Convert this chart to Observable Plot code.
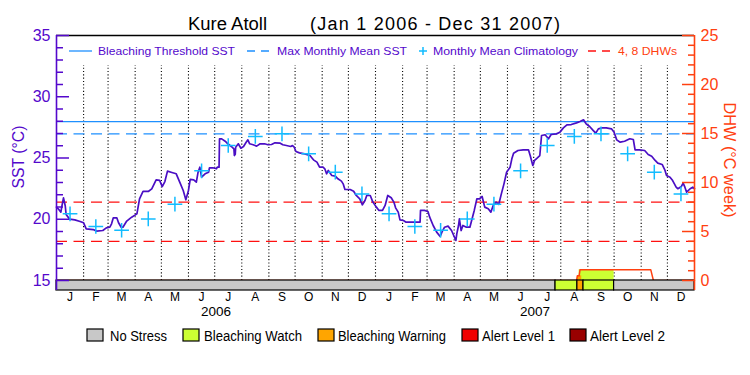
<!DOCTYPE html>
<html>
<head>
<meta charset="utf-8">
<script src="https://cdn.jsdelivr.net/npm/d3@7"></script>
<script src="https://cdn.jsdelivr.net/npm/@observablehq/plot@0.6"></script>
<style>
  body { margin: 0; background: #fff; }
  #chart svg { display: block; }
</style>
</head>
<body>
<div id="chart"></div>
<script>
// ---------------- DATA ----------------
const stationName = "Kure Atoll";
const periodLabel = "(Jan 1 2006 - Dec 31 2007)";
const monthLetters = ["J","F","M","A","M","J","J","A","S","O","N","D"];
const yearLabels = ["2006", "2007"];

// Monthly mean climatology (°C), Jan..Dec
const climatology = [20.44, 19.41, 19.10, 20.03, 21.23, 23.95, 26.02, 26.76, 26.97, 25.34, 23.84, 22.07];
const mmmSST = 26.97;          // Max Monthly Mean SST
const thresholdSST = 27.97;    // Bleaching Threshold SST (MMM + 1)
const dhwLevels = [4, 8];      // DHW reference lines

// SST: days since 2006-01-01, and value (°C)
const sstDay = [0,2,5,6,8,10,11,15,21,27,31,34,42,46,53,57,61,63,65,69,71,74,76,80,86,92,95,99,105,109,114,118,121,124,127,132,137,141,145,148,151,153,157,160,162,164,166,170,174,175,179,183,
184,186,186.5,189,193,196,200,203,203.5,204.5,205,208,211,214,217,219,221,225,229,233,238,242,246,250,256,259,263,268,270,272,274,278,284,290,294,298,301,305,307,309,311,315,319,322,326,328,330,336,340,343,347,350,353,355,359,362,366,
369,373,376,379,383,386,388,391,393,397,400,416,416.5,421,425,427,431,435,439,441,444,448,452,455,457,458,460,461,463,465,469,473,475,478,481,484,487,490,494,497,500,503,506,509,512,515,519,521,523,528,534,540,542,545,547,549,
553,555,559,563,564,566,572,576,580,584,589,595,599,603,606,610,614,617,620,624,629,635,638,641,645,650,656,660,662,667,673,677,681,685,688,693,696,698,702,705,709,711,715,717,719,721,725,728,730];
const sstValue = [20.99,20.85,20.58,21.0,21.75,21.1,20.39,20.01,19.95,19.82,19.71,19.22,19.16,19.03,19.08,19.30,19.35,19.63,20.12,20.12,19.71,19.35,19.35,19.82,20.17,20.44,21.67,22.27,22.27,22.48,23.22,23.17,22.67,23.08,23.93,23.82,23.71,23.03,22.35,21.59,22.35,23.25,23.22,23.03,23.84,24.25,23.44,23.71,23.84,24.2,24.2,24.12,
24.25,24.25,26.56,26.56,26.37,26.16,25.94,25.75,25.2,25.3,25.88,26.16,25.8,25.94,26.29,26.48,26.16,26.08,25.97,26.16,26.16,26.08,26.10,26.24,26.21,26.08,26.02,25.94,26.02,25.88,25.53,25.42,25.34,25.20,24.85,24.66,24.25,24.25,24.12,23.71,23.98,23.57,23.52,23.30,23.11,22.89,22.43,22.43,22.29,21.94,21.67,21.18,21.53,21.94,21.94,21.40,20.99,
20.72,20.72,21.13,21.94,21.75,21.4,20.93,20.58,19.95,19.90,19.76,19.76,20.72,20.72,20.63,20.17,19.49,18.95,18.59,18.95,19.35,19.44,19.08,18.59,18.27,18.81,19.49,20.03,19.08,19.49,19.35,19.35,19.90,20.72,21.67,21.67,21.86,20.99,20.85,20.58,21.18,21.40,21.21,22.07,22.89,23.84,24.25,24.93,25.39,25.61,25.67,25.67,25.20,24.39,24.8,24.93,
25.2,26.84,26.90,26.57,26.70,26.92,26.97,27.11,27.46,27.71,27.73,27.87,27.98,28.12,27.79,27.57,27.25,27.03,27.38,27.46,27.46,27.38,27.11,26.48,26.29,26.37,26.57,26.51,25.67,25.67,25.61,25.29,25.15,24.80,24.58,24.47,24.04,23.57,23.43,23.16,22.62,22.49,22.68,22.95,22.62,22.21,22.49,22.62,22.49];

// Degree Heating Weeks (°C week)
const dhwDate  = ["2006-01-01","2007-08-19","2007-08-20","2007-08-22","2007-08-23","2007-11-12","2007-11-15","2008-01-01"];
const dhwValue = [0, 0, 0.48, 0.48, 1.09, 1.09, 0, 0];

// Stress level periods (0 No Stress, 1 Watch, 2 Warning, 3 Alert 1, 4 Alert 2)
const statusStart = ["2006-01-01","2007-07-26","2007-08-20","2007-08-27","2007-10-01"];
const statusEnd   = ["2007-07-26","2007-08-20","2007-08-27","2007-10-01","2008-01-01"];
const statusLevel = [0, 1, 2, 1, 0];

// Coloured fill under the DHW curve
const fillStart = ["2007-08-22","2007-08-20"];
const fillEnd   = ["2007-10-01","2007-08-25"];
const fillDhw   = [1.09, 0.48];
const fillLevel = [1, 2];

const statusNames  = ["No Stress","Bleaching Watch","Bleaching Warning","Alert Level 1","Alert Level 2"];
const statusColors = ["#c8c8c8","#ccff33","#ffa500","#f00000","#990000"];

const sstTicks = [15, 20, 25, 30, 35];
const dhwTicks = [0, 5, 10, 15, 20, 25];

// ---------------- STYLE ----------------
const PURPLE = "#5408cc", LINE = "#4a0ec4", BLUE = "#1e90ff", CYAN = "#12bcff",
      RED = "#ff1010", ORANGE = "#ff4010";
const FONT = "'Liberation Sans', Arial, sans-serif";
const W = 750, H = 375, ML = 56, MR = 56, MT = 35, MB = 85, FW = W - ML - MR;

// ---------------- BUILD ----------------
const parse = d3.utcParse("%Y-%m-%d");
const t0 = Date.UTC(2006, 0, 1);
const toDate = d => new Date(t0 + d * 864e5);
const xStart = toDate(0), xEnd = toDate(730);
const dhwToSst = v => 15 + v * (20 / 25);       // right axis 0..25 ↔ left 15..35
const yMin = 15 - 10 / ((H - MT - MB - 10) / 20); // 10px stress bar below 15°C

const sst = sstDay.map((d, i) => ({date: toDate(d), v: sstValue[i]}));
const dhw = dhwDate.map((d, i) => ({date: parse(d), v: dhwValue[i]}));
const status = statusStart.map((s, i) => ({start: parse(s), end: parse(statusEnd[i]), level: statusLevel[i]}));
const fills = fillStart.map((s, i) => ({start: parse(s), end: parse(fillEnd[i]), dhw: fillDhw[i], level: fillLevel[i]}));

const monthStarts = d3.utcMonths(xStart, xEnd);
const monthLines = monthStarts.filter(d => +d !== +xStart);
const monthMid = m => new Date((+m + +d3.utcMonth.offset(m, 1)) / 2);
const monthMids = monthStarts.map(m => ({date: monthMid(m), label: monthLetters[m.getUTCMonth()], clim: climatology[m.getUTCMonth()]}));
const yearMids = yearLabels.map(y => ({date: new Date((Date.UTC(+y,0,1) + Date.UTC(+y+1,0,1)) / 2), label: y}));

const majL = sstTicks, minL = d3.range(15, 35.01, 1).filter(v => v % 5 !== 0);
const majR = dhwTicks.map(dhwToSst), minR = d3.range(0, 25.01, 1).filter(v => v % 5 !== 0).map(dhwToSst);

const chart = Plot.plot({
  width: W, height: H,
  marginLeft: ML, marginRight: MR, marginTop: MT, marginBottom: MB,
  x: {type: "utc", domain: [xStart, xEnd], axis: null},
  y: {domain: [yMin, 35], axis: null},
  style: {fontFamily: FONT, background: "#fff", overflow: "visible"},
  marks: [
    Plot.ruleX(monthLines, {x: d => d, y1: 15, y2: 32.55, stroke: "#000", strokeWidth: 1.1, strokeDasharray: "1.1,2.2"}),
    Plot.ruleY([thresholdSST], {stroke: BLUE, strokeWidth: 1.3}),
    Plot.ruleY([mmmSST], {stroke: BLUE, strokeWidth: 1.3, strokeDasharray: "11,6.5"}),
    Plot.ruleY(dhwLevels, {y: dhwToSst, stroke: RED, strokeWidth: 1.3, strokeDasharray: "11,6.5"}),
    Plot.rect(fills, {x1: "start", x2: "end", y1: 15, y2: d => dhwToSst(d.dhw), fill: d => statusColors[d.level]}),
    Plot.line(dhw, {x: "date", y: d => dhwToSst(d.v), stroke: ORANGE, strokeWidth: 1.5}),
    Plot.line(sst, {x: "date", y: "v", stroke: LINE, strokeWidth: 1.7}),
    Plot.dot(monthMids, {x: "date", y: "clim", symbol: "plus", r: 4.8, stroke: CYAN, strokeWidth: 1.5}),
    Plot.rect(status, {x1: "start", x2: "end", y1: yMin, y2: 15, fill: d => statusColors[d.level], stroke: "#000", strokeWidth: 1.2}),
    Plot.ruleY([35], {stroke: "#000", strokeWidth: 1.3}),
    Plot.tickY(majL, {y: d => d, stroke: PURPLE, strokeWidth: 1.5, insetRight: FW - 13}),
    Plot.tickY(minL, {y: d => d, stroke: PURPLE, strokeWidth: 1.5, insetRight: FW - 7}),
    Plot.tickY(majR, {y: d => d, stroke: ORANGE, strokeWidth: 1.5, insetLeft: FW - 12}),
    Plot.tickY(minR, {y: d => d, stroke: ORANGE, strokeWidth: 1.5, insetLeft: FW - 6}),
    Plot.ruleX([xStart], {y1: yMin, y2: 35, stroke: PURPLE, strokeWidth: 1.6}),
    Plot.ruleX([xEnd], {y1: yMin, y2: 35, stroke: ORANGE, strokeWidth: 1.6}),
    Plot.axisY(sstTicks, {anchor: "left", tickSize: 0, tickPadding: 6, fontSize: 16, color: PURPLE, fill: PURPLE, label: null}),
    Plot.axisY(majR, {anchor: "right", tickSize: 0, tickPadding: 6, fontSize: 16, color: ORANGE, fill: ORANGE,
                      tickFormat: v => String(Math.round((v - 15) / 0.8)), label: null}),
    Plot.text(monthMids, {x: "date", text: "label", frameAnchor: "bottom", dy: 10, fontSize: 12, fill: "#000"}),
    Plot.text(yearMids, {x: "date", text: "label", frameAnchor: "bottom", dy: 25, fontSize: 13.5, fill: "#000"})
  ]
});
document.getElementById("chart").appendChild(chart);

// ---------------- DECORATIONS (title, legends, axis titles) ----------------
const svg = d3.select(chart);
const g = svg.append("g").attr("font-family", FONT);
function label(x, y, s, size, fill, len, anchor = "start", transform = null) {
  const t = g.append("text").attr("x", x).attr("y", y).attr("font-size", size)
    .attr("fill", fill).attr("text-anchor", anchor).text(s);
  if (len) t.attr("textLength", len).attr("lengthAdjust", "spacingAndGlyphs");
  if (transform) t.attr("transform", transform);
  return t;
}
// Title
label(188, 30, stationName, 18, "#000", 79);
label(310, 30, periodLabel, 18, "#000", 250).attr("lengthAdjust", "spacing");

// Top legend
const ly = 51;
g.append("line").attr("x1", 69).attr("x2", 92).attr("y1", ly).attr("y2", ly).attr("stroke", BLUE).attr("stroke-width", 1.3);
label(98, 55, "Bleaching Threshold SST", 11.6, PURPLE, 137);
g.append("line").attr("x1", 247).attr("x2", 271).attr("y1", ly).attr("y2", ly).attr("stroke", BLUE).attr("stroke-width", 1.3).attr("stroke-dasharray", "8,6");
label(277, 55, "Max Monthly Mean SST", 11.6, PURPLE, 130);
g.append("path").attr("d", `M${423-4},${ly}h8M423,${ly-4}v8`).attr("stroke", CYAN).attr("stroke-width", 1.5);
label(433, 55, "Monthly Mean Climatology", 11.6, PURPLE, 145);
g.append("line").attr("x1", 588).attr("x2", 612).attr("y1", ly).attr("y2", ly).attr("stroke", RED).attr("stroke-width", 1.3).attr("stroke-dasharray", "8,6");
label(618, 55, "4, 8 DHWs", 11.6, ORANGE, 59);

// Axis titles
label(0, 0, "SST (°C)", 17, PURPLE, 63, "middle", "translate(24,157) rotate(-90)");
label(0, 0, "DHW (°C week)", 17, ORANGE, 115, "middle", "translate(724,160) rotate(90)");

// Bottom legend
const boxX = [87, 183, 318, 462, 570];
const txtX = [110, 204, 338, 482, 590];
const txtW = [57, 98, 108, 73, 75];
statusNames.forEach((n, i) => {
  g.append("rect").attr("x", boxX[i]).attr("y", 329).attr("width", 16).attr("height", 12)
    .attr("fill", statusColors[i]).attr("stroke", "#000").attr("stroke-width", 1.2);
  label(txtX[i], 340.5, n, 14, "#000", txtW[i]);
});
</script>
</body>
</html>
